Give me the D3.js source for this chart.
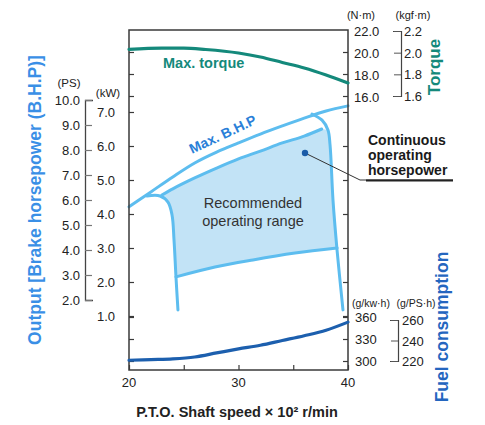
<!DOCTYPE html>
<html><head><meta charset="utf-8">
<script src="https://cdn.jsdelivr.net/npm/d3@7"></script>
<style>body{margin:0;background:#fff}svg{display:block;font-family:"Liberation Sans",Arial,Helvetica,sans-serif}</style>
</head><body><svg id="c" width="485" height="425"></svg>
<script>
// ---- data ----
const speedTicks = [20, 30, 40];
const speedMinorTicks = [25, 35];
const psTicks = [10, 9, 8, 7, 6, 5, 4, 3, 2];
const kwTicks = [7, 6, 5, 4, 3, 2, 1];
const torqueNmTicks = [22, 20, 18, 16];
const torqueKgfTicks = [2.2, 2.0, 1.8, 1.6];
const fuelKwhTicks = [360, 330, 300];
const fuelPshTicks = [260, 240, 220];

const torqueSpeed = [20, 23, 25, 27, 30, 32, 34, 36, 38, 40];
const torqueNm = [20.23, 20.36, 20.36, 20.23, 19.91, 19.55, 19.05, 18.55, 17.91, 17.18];

const bhpSpeed = [20, 22, 24, 26, 28, 30, 32, 34, 36, 38, 40];
const maxBhpKw = [4.21, 4.65, 5.09, 5.50, 5.82, 6.09, 6.35, 6.59, 6.82, 7.03, 7.18];

const contSpeed = [23.0, 24, 26, 28, 30, 32, 34, 36, 37.6];
const contKw = [4.56, 4.74, 5.06, 5.35, 5.62, 5.85, 6.09, 6.29, 6.50];

const rightSpeed = [36.71, 37.63, 38.17, 38.36, 38.63, 39.00, 39.54];
const rightKw = [6.94, 6.76, 6.47, 6.03, 4.41, 2.94, 1.18];

const leftSpeed = [21.64, 22.83, 23.56, 23.93, 24.11, 24.29, 24.47];
const leftKw = [4.53, 4.53, 4.35, 3.97, 3.24, 2.15, 1.18];

const lowerSpeed = [24.29, 27.85, 31.32, 35.16, 39.0];
const lowerKw = [2.15, 2.44, 2.65, 2.85, 3.0];

const fuelSpeed = [20, 22, 24, 26, 28, 30, 32, 34, 36, 38, 40];
const fuelGkwh = [301, 302, 303, 305.5, 311, 316.5, 321.5, 328, 334.5, 342, 353];

// ---- scales ----
const svg = d3.select("#c");
const x = d3.scaleLinear([20, 40], [129, 348]);
const yKw = d3.scaleLinear([1, 7], [316, 112]);
const yPs = d3.scaleLinear([2, 10], [300, 100]);
const yNm = d3.scaleLinear([16, 22], [96, 30]);
const yKgf = d3.scaleLinear([1.6, 2.2], [96, 31]);
const yFuel = d3.scaleLinear([300, 360], [361, 317]);
const yPsh = d3.scaleLinear([220, 260], [361, 320]);

const TEAL = "#14897b", LB = "#5dbdef", FILL = "#c2e3f6", DB = "#1c5fae", AX = "#3a3a3a";
const zip = (a, b) => a.map((v, i) => [v, b[i]]);

// ---- recommended range fill ----
const contPts = zip(contSpeed, contKw);
const rightPts = zip(rightSpeed, rightKw).filter(p => p[1] <= 6.5 && p[1] >= 3.0);
const lowerPts = zip(lowerSpeed, lowerKw).reverse();
const leftPts = zip(leftSpeed, leftKw).filter(p => p[1] > 2.15 && p[1] < 4.4).reverse();
const poly = [...contPts, ...rightPts, ...lowerPts, ...leftPts];
svg.append("path")
  .attr("d", d3.line().x(d => x(d[0])).y(d => yKw(d[1])).curve(d3.curveLinearClosed)(poly))
  .attr("fill", FILL);

const lineKw = d3.line().x(d => x(d[0])).y(d => yKw(d[1]));
const drawLB = (pts, curve) => svg.append("path")
  .attr("d", lineKw.curve(curve)(pts))
  .attr("fill", "none").attr("stroke", LB).attr("stroke-width", 3)
  .attr("stroke-linecap", "round").attr("stroke-linejoin", "round");

drawLB(zip(bhpSpeed, maxBhpKw), d3.curveMonotoneX);
drawLB(contPts, d3.curveMonotoneX);
drawLB(zip(rightSpeed, rightKw), d3.curveCatmullRom.alpha(0.5));
drawLB(zip(leftSpeed, leftKw), d3.curveCatmullRom.alpha(0.5));
drawLB(zip(lowerSpeed, lowerKw), d3.curveMonotoneX);

// ---- frame ----
svg.append("rect").attr("x", x(20)).attr("y", yNm(22))
  .attr("width", x(40) - x(20)).attr("height", 370 - yNm(22))
  .attr("fill", "none").attr("stroke", AX).attr("stroke-width", 1.5);

function frameTicks(axisFn, scale, vals, tx, ty) {
  const g = svg.append("g").attr("transform", `translate(${tx},${ty})`)
    .call(axisFn(scale).tickValues(vals).tickSize(5).tickFormat(""));
  g.select(".domain").remove();
  g.selectAll("line").attr("stroke", AX).attr("stroke-width", 1.2);
}
frameTicks(d3.axisRight, yKw, kwTicks, x(20), 0);
frameTicks(d3.axisRight, yNm, [20, 18, 16], x(20), 0);
frameTicks(d3.axisRight, yFuel, fuelKwhTicks, x(20), 0);
frameTicks(d3.axisLeft, yKw, kwTicks, x(40), 0);
frameTicks(d3.axisLeft, yNm, [20, 18, 16], x(40), 0);
frameTicks(d3.axisLeft, yFuel, fuelKwhTicks, x(40), 0);
frameTicks(d3.axisTop, x, speedTicks.concat(speedMinorTicks), 0, 370);

// ---- torque & fuel curves ----
svg.append("path")
  .attr("d", d3.line().x((d, i) => x(torqueSpeed[i])).y(d => yNm(d)).curve(d3.curveMonotoneX)(torqueNm))
  .attr("fill", "none").attr("stroke", TEAL).attr("stroke-width", 3.2).attr("stroke-linecap", "round");
svg.append("path")
  .attr("d", d3.line().x((d, i) => x(fuelSpeed[i])).y(d => yFuel(d)).curve(d3.curveMonotoneX)(fuelGkwh))
  .attr("fill", "none").attr("stroke", DB).attr("stroke-width", 3.2).attr("stroke-linecap", "round");

// ---- x axis labels ----
svg.append("g").selectAll("text").data(speedTicks).join("text")
  .attr("x", d => x(d)).attr("y", 387).attr("text-anchor", "middle")
  .attr("font-size", 13).attr("fill", "#222").text(d => d);
svg.append("text").attr("x", 237).attr("y", 417).attr("text-anchor", "middle")
  .attr("font-size", 14.5).attr("font-weight", "bold").attr("fill", "#222")
  .text("P.T.O. Shaft speed × 10² r/min");

// ---- PS / kW axis ----
const psG = svg.append("g").attr("transform", "translate(85,0)")
  .call(d3.axisRight(yPs).tickValues(psTicks).tickSize(7).tickSizeOuter(8).tickFormat(""));
psG.selectAll("line").attr("stroke", "#777").attr("stroke-width", 1.2);
psG.select(".domain").attr("stroke", "#444").attr("stroke-width", 1.3);
svg.append("g").selectAll("text").data(psTicks).join("text")
  .attr("x", 80).attr("y", d => yPs(d) + 4.5).attr("text-anchor", "end")
  .attr("font-size", 13).attr("fill", "#222").text(d => d.toFixed(1));
svg.append("g").selectAll("text").data(kwTicks).join("text")
  .attr("x", 97).attr("y", d => yKw(d) + 4.5).attr("text-anchor", "start")
  .attr("font-size", 13).attr("fill", "#222").text(d => d.toFixed(1));
svg.append("text").attr("x", 69).attr("y", 87).attr("text-anchor", "middle")
  .attr("font-size", 11.5).attr("fill", "#222").text("(PS)");
svg.append("text").attr("x", 108).attr("y", 97).attr("text-anchor", "middle")
  .attr("font-size", 11.5).attr("fill", "#222").text("(kW)");

// ---- torque axis ----
svg.append("g").selectAll("text").data(torqueNmTicks).join("text")
  .attr("x", 354).attr("y", d => yNm(d) + 5.5).attr("font-size", 13).attr("fill", "#222")
  .text(d => d.toFixed(1));
const kgG = svg.append("g").attr("transform", "translate(401,0)")
  .call(d3.axisLeft(yKgf).tickValues(torqueKgfTicks).tickSize(7).tickSizeOuter(8).tickFormat(""));
kgG.selectAll("line").attr("stroke", "#555");
kgG.select(".domain").attr("stroke", "#444").attr("stroke-width", 1.2);
svg.append("g").selectAll("text").data(torqueKgfTicks).join("text")
  .attr("x", 404).attr("y", d => yKgf(d) + 5).attr("font-size", 13).attr("fill", "#222")
  .text(d => d.toFixed(1));
svg.append("text").attr("x", 361).attr("y", 19).attr("text-anchor", "middle")
  .attr("font-size", 11).attr("fill", "#222").text("(N·m)");
svg.append("text").attr("x", 413).attr("y", 19).attr("text-anchor", "middle")
  .attr("font-size", 11).attr("fill", "#222").text("(kgf·m)");

// ---- fuel axis ----
svg.append("g").selectAll("text").data(fuelKwhTicks).join("text")
  .attr("x", 355).attr("y", d => yFuel(d) + 5).attr("font-size", 13).attr("fill", "#222")
  .text(d => d);
const fG = svg.append("g").attr("transform", "translate(398,0)")
  .call(d3.axisLeft(yPsh).tickValues(fuelPshTicks).tickSize(7).tickSizeOuter(8).tickFormat(""));
fG.selectAll("line").attr("stroke", "#555");
fG.select(".domain").attr("stroke", "#444").attr("stroke-width", 1.2);
svg.append("g").selectAll("text").data(fuelPshTicks).join("text")
  .attr("x", 402).attr("y", d => yPsh(d) + 5).attr("font-size", 13).attr("fill", "#222")
  .text(d => d);
svg.append("text").attr("x", 371).attr("y", 307).attr("text-anchor", "middle")
  .attr("font-size", 10.5).attr("fill", "#222").text("(g/kw·h)");
svg.append("text").attr("x", 416).attr("y", 307).attr("text-anchor", "middle")
  .attr("font-size", 10.5).attr("fill", "#222").text("(g/PS·h)");

// ---- vertical titles ----
svg.append("text").attr("transform", "translate(41,200) rotate(-90)").attr("text-anchor", "middle")
  .attr("font-size", 17.5).attr("font-weight", "bold").attr("fill", "#3a8fe6")
  .text("Output [Brake horsepower (B.H.P)]");
svg.append("text").attr("transform", "translate(440,67) rotate(-90)").attr("text-anchor", "middle")
  .attr("font-size", 17).attr("font-weight", "bold").attr("fill", TEAL).text("Torque");
svg.append("text").attr("transform", "translate(448,327) rotate(-90)").attr("text-anchor", "middle")
  .attr("font-size", 17.5).attr("font-weight", "bold").attr("fill", "#2466bf").text("Fuel consumption");

// ---- annotations ----
svg.append("text").attr("x", 163).attr("y", 68).attr("font-size", 14.5).attr("font-weight", "bold")
  .attr("fill", TEAL).text("Max. torque");
svg.append("text").attr("transform", "translate(192,154) rotate(-25)")
  .attr("font-size", 14).attr("font-weight", "bold").attr("fill", "#2a7fd8").text("Max. B.H.P");
svg.append("text").attr("x", 253).attr("y", 208).attr("text-anchor", "middle")
  .attr("font-size", 14.5).attr("fill", "#333").text("Recommended");
svg.append("text").attr("x", 253).attr("y", 226).attr("text-anchor", "middle")
  .attr("font-size", 14.5).attr("fill", "#333").text("operating range");

["Continuous", "operating", "horsepower"].forEach((t, i) => {
  svg.append("text").attr("x", 368).attr("y", 145 + i * 15).attr("font-size", 14)
    .attr("font-weight", "bold").attr("fill", "#1a1a1a").text(t);
});
svg.append("path").attr("d", "M305,153 L360,180 L453,180")
  .attr("fill", "none").attr("stroke", "#333").attr("stroke-width", 1);
svg.append("line").attr("x1", 366).attr("x2", 453).attr("y1", 180.5).attr("y2", 180.5)
  .attr("stroke", "#222").attr("stroke-width", 2);
svg.append("circle").attr("cx", 305).attr("cy", 153).attr("r", 3.2).attr("fill", "#1a5ca8");
</script></body></html>
